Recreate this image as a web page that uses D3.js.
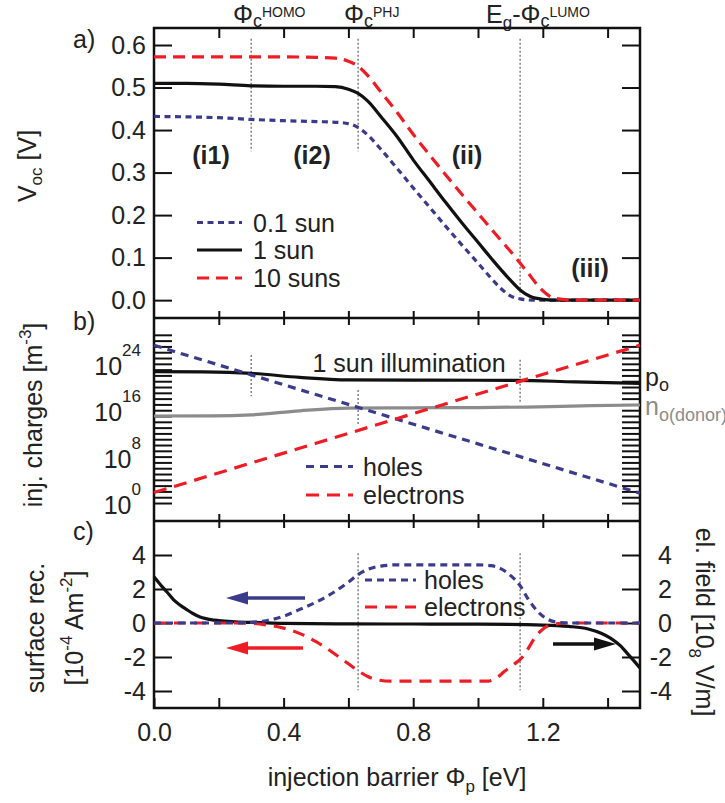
<!DOCTYPE html>
<html><head><meta charset="utf-8">
<script src="https://cdn.jsdelivr.net/npm/d3@7"></script>
<style>
body{margin:0;background:#fff}
text{font-family:"Liberation Sans",Arial,Helvetica,sans-serif;fill:#222}
</style>
</head><body>
<svg id="chart" width="725" height="803"></svg>
<script>
// ---------------- DATA ----------------
const xTicks = [0, 0.2, 0.4, 0.6, 0.8, 1.0, 1.2, 1.4];
const xTickLabels = [0, 0.4, 0.8, 1.2];
const vocTicks = [0, 0.1, 0.2, 0.3, 0.4, 0.5, 0.6];
const chargeDecades = d3.range(0, 30);
const chargeLabelExp = [0, 8, 16, 24];
const recTicks = [-4, -2, 0, 2, 4];
const markerPhi = [0.3, 0.63, 1.13];
const markerNames = ["HOMO", "PHJ", "LUMO"];
const regionLabels = ["(i1)", "(i2)", "(ii)", "(iii)"];
const sunLabels = ["0.1 sun", "1 sun", "10 suns"];

// a) Voc [V] vs injection barrier [eV]
const voc01 = [[0,0.432],[0.1,0.431],[0.2,0.429],[0.3,0.425],[0.4,0.422],[0.5,0.42],[0.57,0.418],[0.6,0.415],[0.63,0.406],[0.66,0.388],[0.7,0.355],[0.75,0.31],[0.8,0.264],[0.85,0.219],[0.9,0.174],[0.95,0.13],[1.0,0.087],[1.04,0.052],[1.07,0.028],[1.1,0.01],[1.13,0.003],[1.17,0.0],[1.5,0.0]];
const voc1 = [[0,0.51],[0.1,0.51],[0.2,0.508],[0.3,0.504],[0.4,0.503],[0.5,0.503],[0.56,0.502],[0.6,0.496],[0.63,0.486],[0.66,0.468],[0.7,0.432],[0.75,0.385],[0.8,0.33],[0.85,0.28],[0.9,0.23],[0.95,0.182],[1.0,0.136],[1.05,0.09],[1.1,0.047],[1.13,0.024],[1.16,0.009],[1.2,0.002],[1.25,0.0],[1.5,0.0]];
const voc10 = [[0,0.572],[0.2,0.572],[0.4,0.572],[0.5,0.571],[0.56,0.569],[0.6,0.562],[0.63,0.55],[0.66,0.528],[0.7,0.49],[0.75,0.442],[0.8,0.39],[0.85,0.342],[0.9,0.295],[0.95,0.249],[1.0,0.204],[1.05,0.159],[1.1,0.115],[1.15,0.068],[1.2,0.022],[1.23,0.006],[1.27,0.001],[1.3,0.0],[1.5,0.0]];

// b) injected charges, log10 of density [m^-3]
const holesLog = [[0,27.2],[0.5,18.7],[1.0,10.2],[1.5,1.7]];
const electronsLog = [[0,1.8],[0.5,10.3],[1.0,18.8],[1.5,27.2]];
const poLog = [[0,22.64],[0.15,22.6],[0.3,22.36],[0.45,21.65],[0.6,21.22],[0.8,21.18],[1.0,21.17],[1.12,21.15],[1.3,20.88],[1.5,20.64]];
const noLog = [[0,15.0],[0.18,15.02],[0.3,15.2],[0.45,15.9],[0.6,16.36],[0.8,16.42],[1.0,16.46],[1.15,16.55],[1.35,16.78],[1.5,16.9]];
const markerBLog = [[25.5,18.4],[19.5,13.4],[24.7,17.4]];

// c) surface recombination [1e-4 A m^-2] and electric field [1e8 V/m]
const recHoles = [[0,0],[0.25,0],[0.3,0.04],[0.35,0.15],[0.4,0.4],[0.45,0.8],[0.5,1.22],[0.55,1.75],[0.6,2.4],[0.63,2.85],[0.66,3.15],[0.7,3.35],[0.75,3.42],[1.0,3.42],[1.04,3.37],[1.07,3.2],[1.1,2.8],[1.13,2.2],[1.155,1.4],[1.19,0.57],[1.215,0.22],[1.24,0.06],[1.28,0],[1.5,0]];
const recElectrons = [[0,0],[0.25,0],[0.3,-0.02],[0.35,-0.12],[0.4,-0.3],[0.46,-0.7],[0.5,-1.1],[0.555,-1.78],[0.6,-2.4],[0.634,-2.86],[0.66,-3.15],[0.69,-3.35],[0.73,-3.42],[1.03,-3.42],[1.06,-3.2],[1.081,-2.86],[1.11,-2.45],[1.138,-1.98],[1.16,-1.35],[1.177,-0.8],[1.195,-0.45],[1.211,-0.22],[1.24,-0.05],[1.28,0],[1.5,0]];
const elField = [[0,2.72],[0.02,2.25],[0.04,1.82],[0.06,1.38],[0.08,1.06],[0.1,0.8],[0.12,0.56],[0.142,0.36],[0.16,0.26],[0.2,0.14],[0.25,0.07],[0.33,0.02],[0.4,-0.02],[0.6,-0.05],[0.8,-0.06],[1.0,-0.07],[1.2,-0.12],[1.28,-0.2],[1.34,-0.35],[1.38,-0.6],[1.41,-0.9],[1.44,-1.35],[1.46,-1.77],[1.48,-2.2],[1.5,-2.65]];

// ---------------- STYLE ----------------
const BLUE = "#3b3b8c", RED = "#ee1c25", GRAY = "#8c8c8c", BLACK = "#111";
const FS = 25;

const svg = d3.select("#chart");
const x = d3.scaleLinear().domain([0, 1.5]).range([154, 640]);
const yA = d3.scaleLinear().domain([-0.042, 0.64]).range([318, 28]);
const yB = d3.scaleLog().domain([Math.pow(10, -3.1), Math.pow(10, 31.9)]).range([521, 318]);
const yC = d3.scaleLinear().domain([-5, 6]).range([708, 521]);

function styleAxis(g) {
  g.attr("font-size", null).attr("font-family", null);
  g.select(".domain").remove();
  g.selectAll(".tick line").attr("stroke", BLACK).attr("stroke-width", 2);
  g.selectAll(".tick text").attr("font-size", FS).attr("fill", "#222");
}

// ---- axes ticks ----
svg.append("g").attr("transform", `translate(${x(0)},0)`)
  .call(d3.axisLeft(yA).tickValues(vocTicks).tickSize(-18).tickPadding(8).tickFormat(d3.format(".1f"))).call(styleAxis);
svg.append("g").attr("transform", `translate(${x(1.5)},0)`)
  .call(d3.axisRight(yA).tickValues(vocTicks).tickSize(-18).tickFormat("")).call(styleAxis);
svg.append("g").attr("transform", `translate(0,${yA.range()[1]})`)
  .call(d3.axisTop(x).tickValues(xTicks.slice(1)).tickSize(-10).tickFormat("")).call(styleAxis);
[yA.range()[0], yB.range()[0]].forEach(yy => {
  svg.append("g").attr("transform", `translate(0,${yy})`)
    .call(d3.axisBottom(x).tickValues(xTicks.slice(1)).tickSize(7).tickFormat("")).call(styleAxis);
  svg.append("g").attr("transform", `translate(0,${yy})`)
    .call(d3.axisTop(x).tickValues(xTicks.slice(1)).tickSize(7).tickFormat("")).call(styleAxis);
});
svg.append("g").attr("transform", `translate(${x(0)},0)`)
  .call(d3.axisLeft(yB).tickValues(chargeDecades.map(e => Math.pow(10, e))).tickSize(-18).tickFormat("")).call(styleAxis);
svg.append("g").attr("transform", `translate(${x(1.5)},0)`)
  .call(d3.axisRight(yB).tickValues(chargeDecades.map(e => Math.pow(10, e))).tickSize(-18).tickFormat("")).call(styleAxis);
chargeLabelExp.forEach(e => {
  const t = svg.append("text").attr("x", 141).attr("y", yB(Math.pow(10, e)) + 11)
    .attr("text-anchor", "end").attr("font-size", FS);
  t.append("tspan").text("10");
  t.append("tspan").attr("dy", -19).attr("font-size", 17).text(e);
});
svg.append("g").attr("transform", `translate(${x(0)},0)`)
  .call(d3.axisLeft(yC).tickValues(recTicks).tickSize(-18).tickPadding(8).tickFormat(d => String(d))).call(styleAxis);
const gcr = svg.append("g").attr("transform", `translate(${x(1.5)},0)`)
  .call(d3.axisRight(yC).tickValues(recTicks).tickSize(-18).tickFormat(d => String(d))).call(styleAxis);
gcr.selectAll(".tick text").attr("x", 32).attr("text-anchor", "end");
svg.append("g").attr("transform", `translate(0,${yC.range()[0]})`)
  .call(d3.axisBottom(x).tickValues(xTicks).tickSize(-10).tickPadding(15)
    .tickFormat(d => xTickLabels.includes(d) ? d.toFixed(1) : "")).call(styleAxis);

// ---- frame ----
svg.append("rect").attr("x", x(0)).attr("y", yA.range()[1]).attr("width", x(1.5) - x(0))
  .attr("height", yC.range()[0] - yA.range()[1]).attr("fill", "none").attr("stroke", BLACK).attr("stroke-width", 2.5);
[yA.range()[0], yB.range()[0]].forEach(yy => svg.append("line").attr("x1", x(0)).attr("x2", x(1.5))
  .attr("y1", yy).attr("y2", yy).attr("stroke", BLACK).attr("stroke-width", 2.5));

// ---- dotted markers ----
const dotted = (x1, y1, y2) => svg.append("line").attr("x1", x1).attr("x2", x1).attr("y1", y1).attr("y2", y2)
  .attr("stroke", "#777").attr("stroke-width", 1.4).attr("stroke-dasharray", "2,2");
dotted(x(markerPhi[0]), yA(0.615), yA(0.35));
dotted(x(markerPhi[1]), yA(0.615), yA(0.35));
dotted(x(markerPhi[2]), yA(0.615), yA(0.012));
markerBLog.forEach((r, i) => dotted(x(markerPhi[i]), yB(Math.pow(10, r[0])), yB(Math.pow(10, r[1]))));
dotted(x(markerPhi[1]), yC(4.1), yC(-3.95));
dotted(x(markerPhi[2]), yC(4.1), yC(-3.95));

// ---- lines ----
function draw(data, yfn, color, width, dash) {
  const line = d3.line().x(d => x(d[0])).y(d => yfn(d[1])).curve(d3.curveMonotoneX);
  svg.append("path").datum(data).attr("d", line).attr("fill", "none").attr("stroke", color)
    .attr("stroke-width", width).attr("stroke-dasharray", dash || null);
}
const yBl = v => yB(Math.pow(10, v));
draw(voc01, yA, BLUE, 3.2, "6,4.5");
draw(voc1, yA, BLACK, 3.2);
draw(voc10, yA, RED, 3.2, "12,7");
draw(noLog, yBl, GRAY, 3.2);
draw(poLog, yBl, BLACK, 3.2);
draw(holesLog, yBl, BLUE, 3.2, "8,6");
draw(electronsLog, yBl, RED, 3.2, "13,8");
draw(elField, yC, BLACK, 3.2);
draw(recElectrons, yC, RED, 3.2, "12,8");
draw(recHoles, yC, BLUE, 3.2, "7,5");

// ---- legends ----
function legendRow(x1, x2, y, color, dash, label, tx) {
  svg.append("line").attr("x1", x1).attr("x2", x2).attr("y1", y).attr("y2", y)
    .attr("stroke", color).attr("stroke-width", 3.2).attr("stroke-dasharray", dash || null);
  svg.append("text").attr("x", tx).attr("y", y + 9).attr("font-size", FS).text(label);
}
legendRow(197, 242, 222.5, BLUE, "6,4.5", sunLabels[0], 253);
legendRow(197, 242, 250, BLACK, null, sunLabels[1], 253);
legendRow(197, 242, 278, RED, "12,7", sunLabels[2], 253);
legendRow(306, 353, 466.5, BLUE, "8,6", "holes", 363);
legendRow(306, 353, 495, RED, "13,8", "electrons", 363);
legendRow(365, 416, 580, BLUE, "7,5", "holes", 424);
legendRow(365, 416, 607, RED, "12,8", "electrons", 424);

// ---- region labels ----
[[211, 164], [312, 164], [467, 164], [590, 277]].forEach((p, i) =>
  svg.append("text").attr("x", p[0]).attr("y", p[1]).attr("text-anchor", "middle")
    .attr("font-size", FS).attr("font-weight", "bold").text(regionLabels[i]));

svg.append("text").attr("x", 409).attr("y", 372).attr("text-anchor", "middle").attr("font-size", FS).text("1 sun illumination");

[["a)", 48], ["b)", 330], ["c)", 540]].forEach(p =>
  svg.append("text").attr("x", 73).attr("y", p[1]).attr("font-size", FS).text(p[0]));

// top labels
function phiLabel(xs, sup, prefix) {
  const t = svg.append("text").attr("x", xs).attr("y", 23).attr("font-size", FS);
  if (prefix) {
    t.append("tspan").text("E");
    t.append("tspan").attr("font-size", 17).attr("dy", 5).text("g");
    t.append("tspan").attr("dy", -5).text("-");
  }
  t.append("tspan").text("Φ");
  t.append("tspan").attr("font-size", 18).attr("dy", 4).text("c");
  t.append("tspan").attr("font-size", 14).attr("dy", -10).text(sup);
}
phiLabel(233, markerNames[0]);
phiLabel(344, markerNames[1]);
phiLabel(486, markerNames[2], true);

// right labels b
const po = svg.append("text").attr("x", 645).attr("y", 386).attr("font-size", FS);
po.append("tspan").text("p"); po.append("tspan").attr("font-size", 18).attr("dy", 5).text("o");
const no = svg.append("text").attr("x", 645).attr("y", 415).attr("font-size", FS).style("fill", GRAY);
no.append("tspan").text("n"); no.append("tspan").attr("font-size", 18).attr("dy", 6).text("o(donor)");

// arrows c
function arrow(x1, x2, y, color) {
  const dir = Math.sign(x2 - x1), hl = 22, hw = 6.5;
  svg.append("line").attr("x1", x1).attr("x2", x2 - dir * hl).attr("y1", y).attr("y2", y)
    .attr("stroke", color).attr("stroke-width", 3.5);
  svg.append("path").attr("d", `M${x2},${y} L${x2 - dir * hl},${y - hw} L${x2 - dir * hl},${y + hw} Z`).attr("fill", color);
}
arrow(305, 226, 598, BLUE);
arrow(303, 226, 648, RED);
arrow(553, 616, 644, BLACK);

// axis titles
const t1 = svg.append("text").attr("transform", "translate(36,166) rotate(-90)").attr("text-anchor", "middle").attr("font-size", FS);
t1.append("tspan").text("V"); t1.append("tspan").attr("font-size", 17).attr("dy", 6).text("oc");
t1.append("tspan").attr("dy", -6).text(" [V]");

const t2 = svg.append("text").attr("transform", "translate(42,415) rotate(-90)").attr("text-anchor", "middle").attr("font-size", FS);
t2.append("tspan").text("inj. charges [m"); t2.append("tspan").attr("font-size", 17).attr("dy", -11).text("-3");
t2.append("tspan").attr("dy", 11).text("]");

svg.append("text").attr("transform", "translate(44,628) rotate(-90)").attr("text-anchor", "middle").attr("font-size", FS).text("surface rec.");
const t4 = svg.append("text").attr("transform", "translate(83,628) rotate(-90)").attr("text-anchor", "middle").attr("font-size", FS);
t4.append("tspan").text("[10"); t4.append("tspan").attr("font-size", 17).attr("dy", -11).text("-4");
t4.append("tspan").attr("dy", 11).text(" Am"); t4.append("tspan").attr("font-size", 17).attr("dy", -11).text("-2");
t4.append("tspan").attr("dy", 11).text("]");

// right title: in the reference the exponent sits on the plot side of the text column
const t5 = svg.append("text").attr("transform", "translate(696,622) rotate(90)").attr("text-anchor", "middle").attr("font-size", FS);
t5.append("tspan").text("el. field [10"); t5.append("tspan").attr("font-size", 17).attr("dy", 7).text("8");
t5.append("tspan").attr("dy", -7).text(" V/m]");

const t6 = svg.append("text").attr("x", 397).attr("y", 786).attr("text-anchor", "middle").attr("font-size", FS);
t6.append("tspan").text("injection barrier Φ"); t6.append("tspan").attr("font-size", 17).attr("dy", 6).text("p");
t6.append("tspan").attr("dy", -6).text(" [eV]");
</script>
</body></html>
